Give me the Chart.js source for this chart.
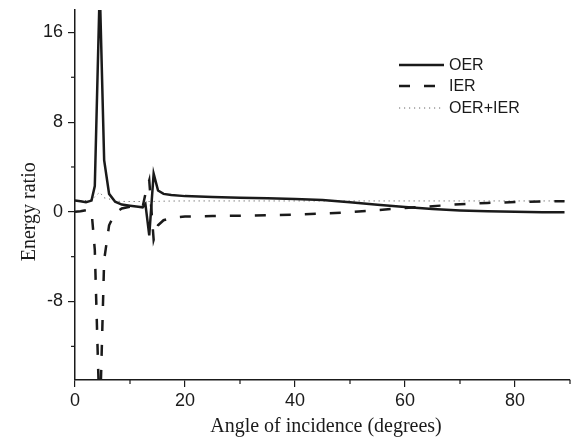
<!DOCTYPE html>
<html>
<head>
<meta charset="utf-8">
<script src="https://cdn.jsdelivr.net/npm/chart.js@4.4.0/dist/chart.umd.min.js"></script>
<style>
  html, body { margin: 0; padding: 0; background: #fff; }
  #wrap { width: 576px; height: 437px; position: relative; }
</style>
</head>
<body>
<div id="wrap"><canvas id="energyChart"></canvas></div>
<script>
// angle of incidence (degrees)
const angles = [0, 1, 2, 3, 3.6, 4.5, 5.3, 6.2, 7.3, 8.5, 10, 11.5, 12.3, 12.8, 13.5, 14.3, 15.1, 16.1, 17.5,
                20, 25, 30, 35, 40, 45, 50, 55, 60, 65, 70, 75, 80, 85, 89];
const oer = [1.0, 0.95, 0.85, 1.0, 2.3, 20, 4.6, 1.6, 0.9, 0.65, 0.55, 0.45, 0.4, 0.7, -2.1, 3.4, 1.9, 1.6, 1.5,
             1.4, 1.32, 1.26, 1.22, 1.15, 1.05, 0.85, 0.62, 0.42, 0.25, 0.12, 0.04, 0.0, -0.03, -0.03];
const ier = [0.0, 0.05, 0.15, 0.1, -3.4, -19, -4.3, -1.2, -0.1, 0.3, 0.45, 0.5, 0.45, 1.6, 2.8, -2.5, -1.2, -0.75, -0.55,
             -0.42, -0.38, -0.35, -0.3, -0.25, -0.16, -0.03, 0.15, 0.34, 0.5, 0.68, 0.79, 0.87, 0.92, 0.95];
const total = [1.0, 1.0, 1.0, 1.05, 1.35, 1.75, 1.25, 1.15, 0.95, 0.93, 0.92, 0.92, 0.92, 0.92, 0.92, 0.93, 0.94, 0.95, 0.96,
               0.97, 0.97, 0.97, 0.97, 0.97, 0.97, 0.97, 0.97, 0.97, 0.97, 0.97, 0.97, 0.97, 0.97, 0.97];

const xTicks = [0, 20, 40, 60, 80];
const xMinor = [10, 30, 50, 70, 90];
const yTicks = [-8, 0, 8, 16];
const yMinor = [-12, -4, 4, 12];
const seriesNames = ['OER', 'IER', 'OER+IER'];

const ink = '#1a1a1a';

function pts(ys) {
    return angles.map((a, i) => ({ x: a, y: ys[i] }));
}

// short minor ticks, axis titles and legend
const extras = {
    id: 'extras',
    afterDraw(chart) {
        const ctx = chart.ctx;
        const xs = chart.scales.x, ys = chart.scales.y;
        const area = chart.chartArea;
        ctx.save();
        ctx.strokeStyle = ink;
        ctx.lineWidth = 1.2;
        xMinor.forEach(v => {
            const px = xs.getPixelForValue(v);
            ctx.beginPath(); ctx.moveTo(px, area.bottom); ctx.lineTo(px, area.bottom + 4); ctx.stroke();
        });
        yMinor.forEach(v => {
            const py = ys.getPixelForValue(v);
            ctx.beginPath(); ctx.moveTo(area.left, py); ctx.lineTo(area.left - 4, py); ctx.stroke();
        });

        // axis titles
        ctx.fillStyle = ink;
        ctx.font = '20px "Liberation Serif", "Times New Roman", serif';
        ctx.textAlign = 'center';
        ctx.textBaseline = 'alphabetic';
        ctx.fillText('Angle of incidence (degrees)', 326, 432);
        ctx.translate(35, ys.getPixelForValue(0));
        ctx.rotate(-Math.PI / 2);
        ctx.fillText('Energy ratio', 0, 0);
        ctx.setTransform(1, 0, 0, 1, 0, 0);

        // legend
        const rows = [65, 86, 108];
        ctx.font = '16px "Liberation Sans", Arial, sans-serif';
        ctx.textAlign = 'left';
        ctx.textBaseline = 'middle';
        chart.data.datasets.forEach((ds, i) => {
            ctx.strokeStyle = ds.borderColor;
            ctx.lineWidth = ds.borderWidth;
            ctx.setLineDash(ds.borderDash || []);
            ctx.beginPath(); ctx.moveTo(399, rows[i]); ctx.lineTo(444, rows[i]); ctx.stroke();
            ctx.setLineDash([]);
            ctx.fillStyle = ink;
            ctx.fillText(ds.label, 449, rows[i] + 1);
        });
        ctx.restore();
    }
};

const energyChart = new Chart(document.getElementById('energyChart'), {
    type: 'line',
    data: {
        datasets: [
            { label: seriesNames[0], data: pts(oer), borderColor: ink, borderWidth: 2.5 },
            { label: seriesNames[1], data: pts(ier), borderColor: ink, borderWidth: 2.5, borderDash: [11, 14] },
            { label: seriesNames[2], data: pts(total), borderColor: '#666', borderWidth: 1, borderDash: [1.2, 3.8] }
        ]
    },
    options: {
        responsive: true,
        maintainAspectRatio: false,
        animation: false,
        layout: { padding: { top: 10, right: 6, left: 0, bottom: 0 } },
        elements: { point: { radius: 0 }, line: { tension: 0 } },
        plugins: { legend: { display: false }, tooltip: { enabled: false } },
        scales: {
            x: {
                type: 'linear', min: 0, max: 90,
                afterBuildTicks: s => { s.ticks = xTicks.map(v => ({ value: v })); },
                afterFit: s => { s.height = 57; s.paddingLeft = 0; s.paddingRight = 0; },
                grid: { drawOnChartArea: false, tickLength: 7, color: ink, lineWidth: 1.2 },
                border: { color: ink, width: 1.5 },
                ticks: { color: ink, padding: 3, maxRotation: 0,
                         font: { family: '"Liberation Sans", Arial, sans-serif', size: 18 } }
            },
            y: {
                min: -15, max: 18,
                afterBuildTicks: s => { s.ticks = yTicks.map(v => ({ value: v })); },
                afterFit: s => { s.width = 75; s.paddingTop = 0; s.paddingBottom = 0; },
                grid: { drawOnChartArea: false, tickLength: 7, color: ink, lineWidth: 1.2 },
                border: { color: ink, width: 1.5 },
                ticks: { color: ink, padding: 5,
                         font: { family: '"Liberation Sans", Arial, sans-serif', size: 18 } }
            }
        }
    },
    plugins: [extras]
});
</script>
</body>
</html>
